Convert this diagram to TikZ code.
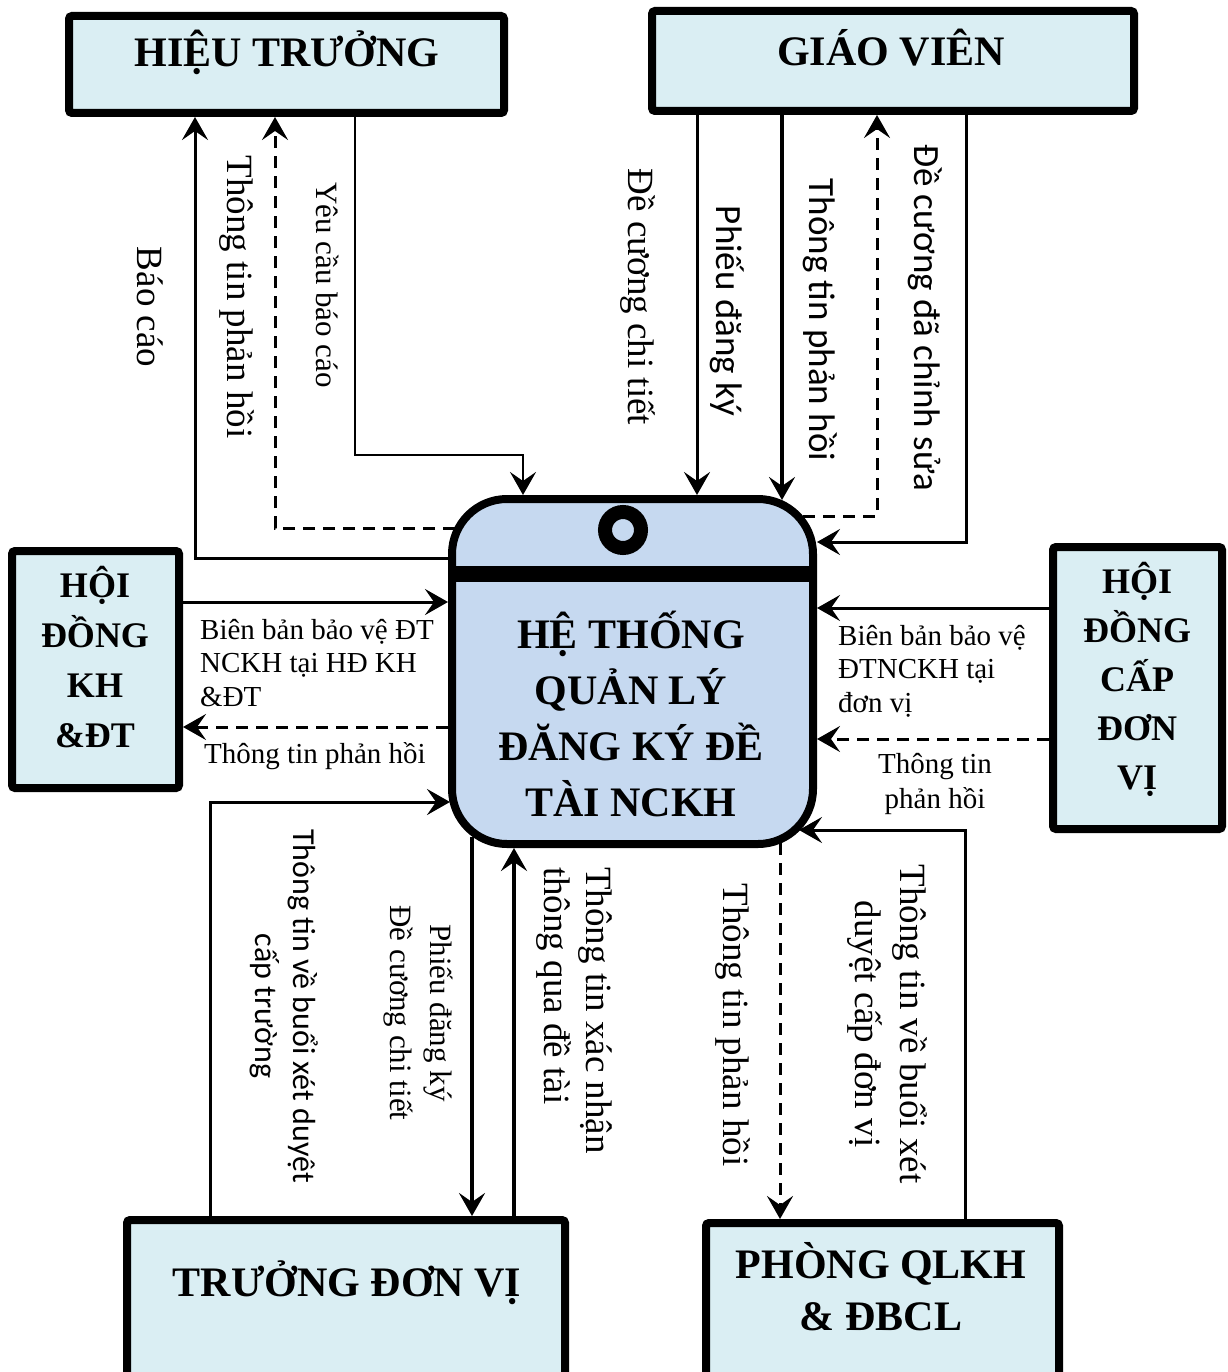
\documentclass[tikz,border=0pt]{standalone}
\usepackage{fontspec}
\setmainfont{Liberation Serif}
\newfontfamily\calibrif{Carlito}
\usetikzlibrary{arrows.meta}
\definecolor{boxfill}{RGB}{218,238,243}
\definecolor{cenfill}{RGB}{198,217,240}
\begin{document}
\begin{tikzpicture}[x=1pt,y=-1pt,
  obox/.style={draw=black, line width=8pt, fill=boxfill, rounded corners=3pt, inner sep=0pt},
  cbox/.style={draw=black, line width=8pt, fill=cenfill, rounded corners=55pt, inner sep=0pt},
  title/.style={font=\bfseries\fontsize{42}{56}\selectfont, inner sep=0pt, align=center},
  stitle/.style={font=\bfseries\fontsize{36}{50}\selectfont, inner sep=0pt, align=center},
  >={Stealth[length=23pt,width=26pt,inset=9pt]},
  conn/.style={line width=3pt, ->},
  thk/.style={line width=4pt},
  thn/.style={line width=2.5pt},
  dsh/.style={dash pattern=on 12pt off 8pt},
  vlab/.style={font=\fontsize{37}{42}\selectfont, inner sep=0pt, rotate=-90, align=center},
  hlab/.style={font=\fontsize{29}{33.5}\selectfont, inner sep=0pt},
]
\useasboundingbox (0,0) rectangle (1227,1372);
\fill[white] (0,0) rectangle (1227,1372);

% boxes
\node[obox, minimum width=435pt, minimum height=97pt] (ht) at (286.5,64.5) {};
\node[title] (htt) at (287,52) {HIỆU TRƯỞNG};
\node[obox, minimum width=482pt, minimum height=100pt] (gv) at (893,61) {};
\node[title] (gvt) at (891,48) {GIÁO VIÊN};
\node[obox, minimum width=167pt, minimum height=237pt] (hdkh) at (95.5,669.5) {};
\node[stitle] (hdkht) at (95,657) {HỘI\\ĐỒNG\\KH\\\&ĐT};
\node[obox, minimum width=169pt, minimum height=282pt] (hdc) at (1137.5,688) {};
\node[stitle, font=\bfseries\fontsize{36}{49}\selectfont] (hdct) at (1137,679) {HỘI\\ĐỒNG\\CẤP\\ĐƠN\\VỊ};
\node[obox, minimum width=438pt, minimum height=160pt] (tdv) at (346,1300) {};
\node[title] (tdvt) at (347,1283) {TRƯỞNG ĐƠN VỊ};
\node[obox, minimum width=353pt, minimum height=157pt] (pq) at (882.5,1301.5) {};
\node[title, font=\bfseries\fontsize{42}{52}\selectfont] (pqt) at (881,1287) {PHÒNG QLKH\\\& ĐBCL};

% central
\node[cbox, minimum width=361pt, minimum height=345pt] (cen) at (632.5,671.5) {};
\draw[line width=16pt] (452,574) -- (813,574);
\draw[line width=14pt] (623,530) circle (18pt);
\node[title] (cent) at (631,714) {HỆ THỐNG\\QUẢN LÝ\\ĐĂNG KÝ ĐỀ\\TÀI NCKH};

% coordinates on the rounded corners
\coordinate (c1) at (455,528);
\coordinate (c2) at (782,500);
\coordinate (c3) at (803,516);
\coordinate (c4) at (450,802);
\coordinate (c5) at (780,843);
\coordinate (c6) at (799,830);
\coordinate (c7) at (472,837);

% top-left connectors
\draw[conn] (cen.west |- 0,558) -| (ht.south -| 195,0);
\draw[conn,dsh] (c1) -| (ht.south -| 275,0);
\draw[conn,thn] (ht.south -| 355,0) -- (355,455) -| (cen.north -| 523,0);
\node[vlab] (l1) at (150,307) {Báo cáo};
\node[vlab] (l2) at (237,297) {Thông tin phản hồi};
\node[vlab, font=\fontsize{31}{36}\selectfont] (l3) at (328,285) {Yêu cầu báo cáo};

% top-right connectors
\draw[conn] (gv.south -| 697,0) -- (cen.north -| 697,0);
\draw[conn,thk] (gv.south -| 782,0) -- (c2);
\draw[conn,dsh] (c3) -| (gv.south -| 877,0);
\draw[conn] (gv.south -| 966,0) |- (cen.east |- 0,542);
\node[vlab] (l4) at (638,297) {Đề cương chi tiết};
\node[vlab, font=\calibrif\fontsize{37}{42}\selectfont] (l5) at (727,311) {Phiếu đăng ký};
\node[vlab, font=\calibrif\fontsize{37}{42}\selectfont] (l6) at (820,320) {Thông tin phản hồi};
\node[vlab, font=\calibrif\fontsize{37}{42}\selectfont] (l7) at (925,318) {Đề cương đã chỉnh sửa};

% left connectors
\draw[conn] (hdkh.east |- 0,602) -- (cen.west |- 0,602);
\draw[conn,dsh] (cen.west |- 0,727) -- (hdkh.east |- 0,727);
\node[hlab, anchor=west, align=left] (l8) at (200,663) {Biên bản bảo vệ ĐT\\NCKH tại HĐ KH\\\&ĐT};
\node[hlab] (l9) at (315,756) {Thông tin phản hồi};

% right connectors
\draw[conn] (hdc.west |- 0,608) -- (cen.east |- 0,608);
\draw[conn,dsh] (hdc.west |- 0,739) -- (cen.east |- 0,739);
\node[hlab, anchor=west, align=left] (l10) at (838,671) {Biên bản bảo vệ\\ĐTNCKH tại\\đơn vị};
\node[hlab, align=center, font=\fontsize{29}{35}\selectfont] (l11) at (935,784) {Thông tin\\phản hồi};

% bottom-left connectors
\draw[conn] (tdv.north -| 210,0) |- (c4);
\draw[conn,thk] (c7) -- (tdv.north -| 472,0);
\draw[conn,thk] (tdv.north -| 514,0) -- (cen.south -| 514,0);
\node[vlab, font=\calibrif\fontsize{32}{38}\selectfont] (l12) at (284,1006) {Thông tin về buổi xét duyệt\\cấp trường};
\node[vlab, font=\fontsize{31}{40}\selectfont] (l13) at (418,1013) {Phiếu đăng ký\\Đề cương chi tiết};
\node[vlab, align=left, anchor=west] (l14) at (574,867) {Thông tin xác nhận\\thông qua đề tài};

% bottom-right connectors
\draw[conn,dsh] (c5) -- (pq.north -| 780,0);
\draw[conn] (pq.north -| 965,0) |- (c6);
\node[vlab] (l15) at (733,1025) {Thông tin phản hồi};
\node[vlab, font=\fontsize{37}{45}\selectfont] (l16) at (887,1024) {Thông tin về buổi xét\\duyệt cấp đơn vị};
\end{tikzpicture}
\end{document}
